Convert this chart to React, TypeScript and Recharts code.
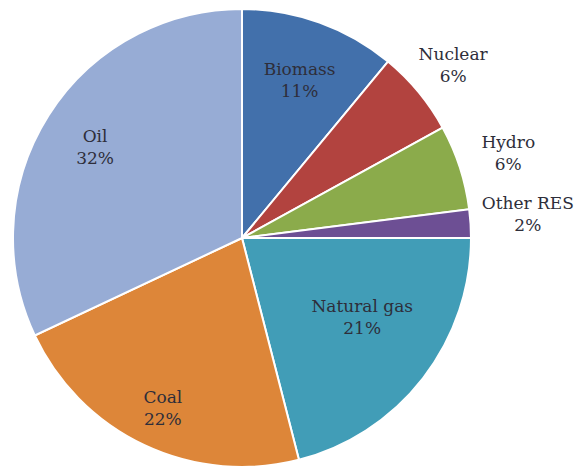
import React from "react";
import { Cell, Pie, PieChart } from "recharts";

const SOURCES = ["Biomass", "Nuclear", "Hydro", "Other RES", "Natural gas", "Coal", "Oil"];
const SHARES = [11, 6, 6, 2, 21, 22, 32];
const COLORS = ["#4270ab", "#b2433f", "#8bab4b", "#6d4f94", "#419db7", "#dd8639", "#97acd5"];

// label placement: distance from the centre (px) and a small angular nudge (deg)
const LABEL_RADIUS: Record<string, number> = {
  Biomass: 170,
  Nuclear: 274,
  Hydro: 280,
  "Other RES": 287,
  "Natural gas": 143,
  Coal: 186,
  Oil: 174,
};
const LABEL_NUDGE: Record<string, number> = {
  "Natural gas": 5,
  "Other RES": 1.5,
};

const RAD = Math.PI / 180;
const FONT = "DejaVu Serif";

const data = SOURCES.map((name, i) => ({ name, value: SHARES[i] }));

function renderLabel(props: any) {
  const { cx, cy, midAngle, name, value } = props;
  const r = LABEL_RADIUS[name] ?? 170;
  const a = midAngle + (LABEL_NUDGE[name] ?? 0);
  const x = cx + r * Math.cos(-a * RAD);
  const y = cy + r * Math.sin(-a * RAD);
  return (
    <text
      x={x}
      y={y}
      textAnchor="middle"
      fill="#2e2e3a"
      fontFamily={FONT}
      fontSize={17}
    >
      <tspan x={x} dy={-3}>{name}</tspan>
      <tspan x={x} dy={22}>{`${value}%`}</tspan>
    </text>
  );
}

export default function App() {
  return (
    <div style={{ position: "absolute", left: 0, top: 0, width: 579, height: 471, background: "#fff" }}>
      <PieChart width={579} height={471} margin={{ top: 0, right: 0, bottom: 0, left: 0 }}>
        <Pie
          data={data}
          dataKey="value"
          nameKey="name"
          cx={242}
          cy={238}
          outerRadius={229}
          startAngle={90}
          endAngle={-270}
          stroke="#ffffff"
          strokeWidth={2}
          label={renderLabel}
          labelLine={false}
          isAnimationActive={false}
        >
          {data.map((d, i) => (
            <Cell key={d.name} fill={COLORS[i]} />
          ))}
        </Pie>
      </PieChart>
    </div>
  );
}
